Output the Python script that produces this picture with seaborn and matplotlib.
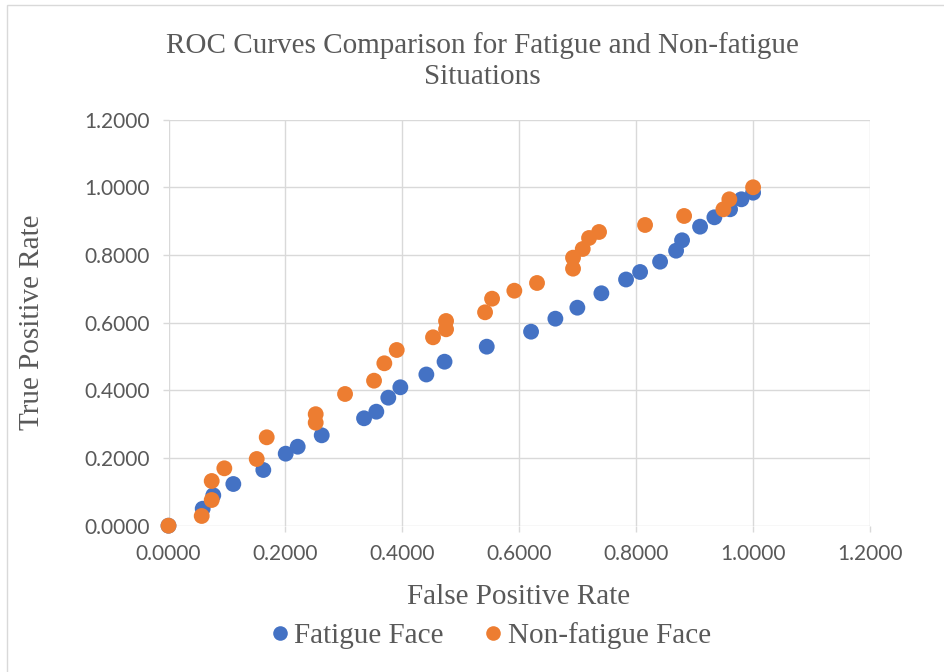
import numpy as np
import pandas as pd
import seaborn as sns
import matplotlib.pyplot as plt
from matplotlib.patches import Rectangle
from matplotlib.lines import Line2D

# ROC points
fatigue_fpr = [0.0, 0.0585, 0.0766, 0.1109, 0.1622, 0.2005, 0.2210, 0.2621, 0.3345, 0.3555,
               0.3760, 0.3966, 0.4411, 0.4722, 0.5444, 0.6202, 0.6618, 0.6994, 0.7405, 0.7827,
               0.8067, 0.8409, 0.8683, 0.8785, 0.9093, 0.9338, 0.9606, 0.9800, 1.0]
fatigue_tpr = [0.0, 0.0502, 0.0898, 0.1232, 0.1646, 0.2128, 0.2334, 0.2671, 0.3174, 0.3369,
               0.3783, 0.4090, 0.4468, 0.4846, 0.5290, 0.5733, 0.6117, 0.6442, 0.6868, 0.7275,
               0.7497, 0.7801, 0.8126, 0.8434, 0.8836, 0.9113, 0.9350, 0.9645, 0.9840]

nonfatigue_fpr = [0.0, 0.0568, 0.0739, 0.0739, 0.0955, 0.1509, 0.1680, 0.2518, 0.2518, 0.3020,
                  0.3516, 0.3692, 0.3904, 0.4525, 0.4748, 0.4748, 0.5415, 0.5535, 0.5916, 0.6304,
                  0.6920, 0.6920, 0.7086, 0.7194, 0.7365, 0.8152, 0.8820, 0.9492, 0.9594, 1.0]
nonfatigue_tpr = [0.0, 0.0287, 0.0759, 0.1321, 0.1696, 0.1971, 0.2612, 0.3295, 0.3044, 0.3892,
                  0.4285, 0.4799, 0.5192, 0.5567, 0.5804, 0.6049, 0.6306, 0.6708, 0.6944, 0.7172,
                  0.7595, 0.7920, 0.8177, 0.8502, 0.8679, 0.8886, 0.9152, 0.9350, 0.9645, 1.0]

series_names = ["Fatigue Face", "Non-fatigue Face"]
ticks = [0.0, 0.2, 0.4, 0.6, 0.8, 1.0, 1.2]

df = pd.concat([
    pd.DataFrame({"FPR": fatigue_fpr, "TPR": fatigue_tpr, "Series": series_names[0]}),
    pd.DataFrame({"FPR": nonfatigue_fpr, "TPR": nonfatigue_tpr, "Series": series_names[1]}),
], ignore_index=True)

palette = {series_names[0]: "#4472C4", series_names[1]: "#ED7D31"}
text_color = "#595959"
grid_color = "#D9D9D9"

sns.set_theme(style="white")
plt.rcParams["font.family"] = ["Liberation Serif", "DejaVu Serif"]

fig = plt.figure(figsize=(9.44, 6.72), dpi=100)
ax = fig.add_axes([168.5 / 944, 1 - 525.7 / 672, (870 - 168.5) / 944, (525.7 - 119.6) / 672])

sns.scatterplot(data=df, x="FPR", y="TPR", hue="Series", palette=palette,
                s=130, linewidth=0, ax=ax, legend=False)
for coll in ax.collections:
    coll.set_clip_on(False)
    coll.set_zorder(3)

ax.set_xlim(0, 1.2)
ax.set_ylim(0, 1.2)
ax.set_xticks(ticks)
ax.set_yticks(ticks)
ax.set_xticklabels([f"{t:.4f}" for t in ticks])
ax.set_yticklabels([f"{t:.4f}" for t in ticks])
ax.grid(True, color=grid_color, linewidth=1.0)
ax.set_axisbelow(True)
for sp in ax.spines.values():
    sp.set_visible(False)
ax.tick_params(axis="both", length=4.5, width=1.0, color=grid_color, pad=9,
               labelsize=15, labelcolor=text_color)
for lab in ax.get_xticklabels() + ax.get_yticklabels():
    lab.set_family(["Lato", "DejaVu Sans"])
ax.tick_params(axis="x", bottom=True)
ax.tick_params(axis="y", left=True)
ax.set_xlabel("")
ax.set_ylabel("")

fig.text(519 / 944, 1 - 597 / 672, "False Positive Rate", ha="center", va="center",
         fontsize=21, color=text_color)
fig.text(32 / 944, 1 - 322 / 672, "True Positive Rate", ha="center", va="center",
         rotation=90, fontsize=21, color=text_color)
fig.text(482 / 944, 1 - 61 / 672,
         "ROC Curves Comparison for Fatigue and Non-fatigue\nSituations",
         ha="center", va="center", fontsize=21, color=text_color, linespacing=1.25)

handles = [Line2D([], [], marker="o", linestyle="", markersize=10.5,
                  markerfacecolor=palette[n], markeredgewidth=0) for n in series_names]
fig.legend(handles, series_names, loc="center", bbox_to_anchor=(488 / 944, 1 - 636 / 672),
           ncol=2, frameon=False, fontsize=21, labelcolor=text_color,
           handletextpad=0.0, columnspacing=1.2, handlelength=1.0)

# light chart-area border like the spreadsheet frame
fig.patches.append(Rectangle((7 / 944, -0.1), 1.2, 1 - 5 / 672 + 0.1, transform=fig.transFigure,
                             fill=False, edgecolor=grid_color, linewidth=1.0))

fig.savefig("out.png", dpi=100)
